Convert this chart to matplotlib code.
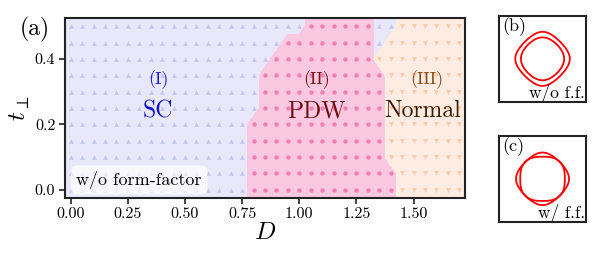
import numpy as np
import matplotlib
matplotlib.use('Agg')
import matplotlib.pyplot as plt
from matplotlib.ticker import FormatStrFormatter

plt.rcParams['font.family'] = ['cmr10', 'DejaVu Serif']
plt.rcParams['mathtext.fontset'] = 'cm'
plt.rcParams['axes.formatter.use_mathtext'] = True

# grid of the phase scan
D_vals = np.arange(0, 35) * 0.05          # 0.00 ... 1.70
t_vals = np.arange(0, 11) * 0.05          # 0.00 ... 0.50

# per row of t (bottom to top): first PDW D, last PDW D, first Normal D
pdw_start = [0.80, 0.80, 0.80, 0.80, 0.80, 0.85, 0.85, 0.85, 0.90, 0.95, 1.05]
pdw_end = [1.40, 1.40, 1.35, 1.35, 1.35, 1.35, 1.35, 1.35, 1.30, 1.30, 1.30]
normal_start = [1.45, 1.45, 1.40, 1.40, 1.40, 1.40, 1.40, 1.40, 1.35, 1.40, 1.45]

# Fermi surface levels of the insets
fs_levels_b = [0.6, 1.0]        # cos kx + cos ky
fs_level_c_diamond = 0.65
fs_size_c_square = 1.62
fs_power_c_square = 2.7

c_sc_bg, c_pdw_bg, c_n_bg = '#e8e8fa', '#fac8e1', '#fdece2'
c_sc_m, c_pdw_m, c_n_m = '#c6c6f2', '#f27fb1', '#fdc9a9'

# phase map 0=SC 1=PDW 2=Normal
phase = np.zeros((len(t_vals), len(D_vals)), dtype=int)
for j in range(len(t_vals)):
    for i, d in enumerate(D_vals):
        if pdw_start[j] - 1e-6 <= d <= pdw_end[j] + 1e-6:
            phase[j, i] = 1
        elif d >= normal_start[j] - 1e-6:
            phase[j, i] = 2

# pad grid so the fill reaches the frame
Dp = np.concatenate([[D_vals[0] - 0.05], D_vals, [D_vals[-1] + 0.05]])
tp = np.concatenate([[t_vals[0] - 0.05], t_vals, [t_vals[-1] + 0.05]])
php = np.pad(phase, 1, mode='edge')

fig = plt.figure(figsize=(5.98, 2.57), dpi=100)
ax = fig.add_axes([0.1087, 0.2296, 0.669, 0.7004])
ax.set_facecolor(c_sc_bg)
for k, col in zip([0, 1, 2], [c_sc_bg, c_pdw_bg, c_n_bg]):
    ax.contourf(Dp, tp, (php == k).astype(float), levels=[0.5, 1.5], colors=[col], zorder=1)

DD, TT = np.meshgrid(D_vals, t_vals)
ax.scatter(DD[phase == 0], TT[phase == 0], marker='^', s=12, color=c_sc_m, lw=0, zorder=2)
ax.scatter(DD[phase == 1], TT[phase == 1], marker='o', s=10, color=c_pdw_m, lw=0, zorder=2)
ax.scatter(DD[phase == 2], TT[phase == 2], marker='v', s=12, color=c_n_m, lw=0, zorder=2)

ax.set_xlim(-0.025, 1.725)
ax.set_ylim(-0.025, 0.525)
ax.set_xticks([0, 0.25, 0.5, 0.75, 1.0, 1.25, 1.5])
ax.set_yticks([0, 0.2, 0.4])
ax.xaxis.set_major_formatter(FormatStrFormatter('%.2f'))
ax.yaxis.set_major_formatter(FormatStrFormatter('%.1f'))
ax.tick_params(labelsize=11.5, length=4, width=1.2, color='#222222', pad=3)
for sp in ax.spines.values():
    sp.set_linewidth(1.5)
    sp.set_color('#222222')
    sp.set_zorder(5)
ax.set_xlabel('$D$', fontsize=18, labelpad=0)
ax.set_ylabel(r'$t_\perp$', fontsize=18, labelpad=2)

ax.text(0.383, 0.338, '(I)', color='#1c1cd6', fontsize=13, ha='center', va='center', zorder=4)
ax.text(0.383, 0.24, 'SC', color='#1010cc', fontsize=17, ha='center', va='center', zorder=4)
ax.text(1.077, 0.338, '(II)', color='#7a1010', fontsize=13, ha='center', va='center', zorder=4)
ax.text(1.077, 0.24, 'PDW', color='#6e0a0a', fontsize=17, ha='center', va='center', zorder=4)
ax.text(1.558, 0.338, '(III)', color='#8b4513', fontsize=13, ha='center', va='center', zorder=4)
ax.text(1.54, 0.24, 'Normal', color='#3a1a08', fontsize=17, ha='center', va='center', zorder=4)
ax.text(0.025, 0.03, 'w/o form-factor', fontsize=13, ha='left', va='center', zorder=4,
        bbox=dict(boxstyle='round,pad=0.3', fc='white', ec='none', alpha=0.7))

fig.text(0.033, 0.887, '(a)', fontsize=17, ha='left', va='center')

# insets with Fermi surfaces
k = np.linspace(-np.pi, np.pi, 401)
KX, KY = np.meshgrid(k, k)
for pos, lab, sub in [([0.835, 0.6043, 0.1445, 0.3335], '(b)', 'w/o f.f.'),
                      ([0.835, 0.1374, 0.1445, 0.3335], '(c)', 'w/ f.f.')]:
    ai = fig.add_axes(pos)
    if lab == '(b)':
        ai.contour(KX, KY, np.cos(KX) + np.cos(KY), levels=fs_levels_b, colors='red', linewidths=1.3)
    else:
        ai.contour(KX, KY, np.cos(KX) + np.cos(KY), levels=[fs_level_c_diamond], colors='red', linewidths=1.3)
        ai.contour(KX, KY, np.abs(KX)**fs_power_c_square + np.abs(KY)**fs_power_c_square,
                   levels=[fs_size_c_square**fs_power_c_square], colors='red', linewidths=1.3)
    ai.set_xlim(-np.pi, np.pi)
    ai.set_ylim(-np.pi, np.pi)
    ai.set_xticks([])
    ai.set_yticks([])
    for sp in ai.spines.values():
        sp.set_linewidth(1.5)
        sp.set_color('#222222')
    ai.text(0.03, 0.98, lab, transform=ai.transAxes, fontsize=13, ha='left', va='top')
    ai.text(0.99, 0.0, sub, transform=ai.transAxes, fontsize=12.5, ha='right', va='bottom')

fig.savefig('out.png', dpi=100)
